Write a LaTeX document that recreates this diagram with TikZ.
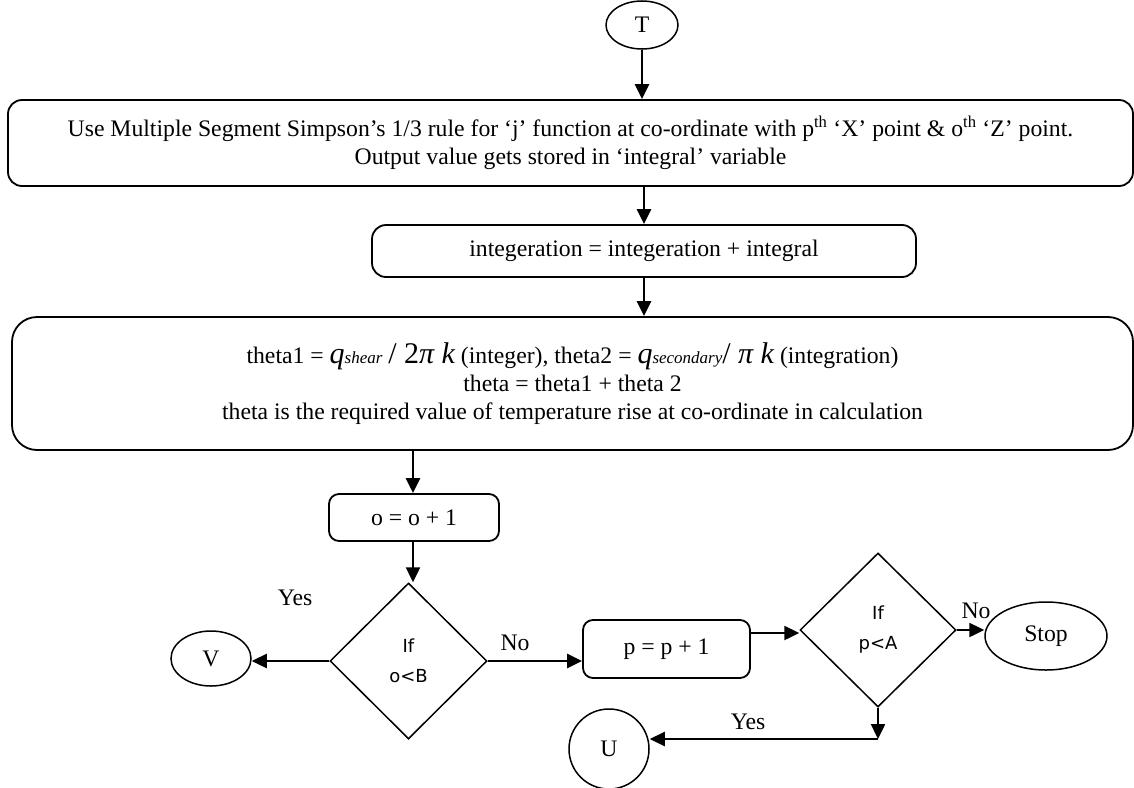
\documentclass[tikz,border=0pt]{standalone}
\usepackage{fontspec}
\setmainfont{Liberation Serif}
\newfontfamily\dejavu{DejaVu Sans}
\usetikzlibrary{shapes.geometric,arrows.meta}
\begin{document}
\begin{tikzpicture}[x=1pt,y=-1pt,
  every node/.style={font=\fontsize{23.7}{28}\selectfont},
  rbox/.style={draw,line width=1.8pt,rounded corners=14pt,align=center,inner sep=0pt},
  dia/.style={draw,diamond,line width=1.5pt,inner sep=0pt,align=center,font=\dejavu\fontsize{18}{30}\selectfont},
  oval/.style={draw,ellipse,line width=1.5pt,inner sep=0pt},
  arr/.style={line width=2.4pt,-{Triangle[length=15pt,width=14pt]}},
  lbl/.style={inner sep=0pt}]
\useasboundingbox (0,0) rectangle (1134,787);
\node[oval,minimum width=72pt,minimum height=48pt] (T) at (642,25) {T};
\node[rbox,minimum width=1125pt,minimum height=86pt] (b1) at (570.5,143)
  {Use Multiple Segment Simpson’s 1/3 rule for ‘j’ function at co-ordinate with p\textsuperscript{th} ‘X’ point \& o\textsuperscript{th} ‘Z’ point.\\
   Output value gets stored in ‘integral’ variable};
\node[rbox,minimum width=544pt,minimum height=52pt] (b2) at (644,251) {integeration = integeration + integral};
\node[rbox,rounded corners=25pt,minimum width=1121pt,minimum height=133pt] (b3) at (572.5,383.5)
  {theta1 = {\fontsize{30}{28}\selectfont\itshape q}{\fontsize{17}{16}\selectfont\itshape shear}
   {\fontsize{30}{28}\selectfont / 2\itshape π k} (integer), theta2 = {\fontsize{30}{28}\selectfont\itshape q}{\fontsize{17}{16}\selectfont\itshape secondary}{\fontsize{30}{28}\selectfont /~\itshape π k} (integration)\\
   theta = theta1 + theta 2\\
   theta is the required value of temperature rise at co-ordinate in calculation};
\node[rbox,rounded corners=10pt,minimum width=170pt,minimum height=47pt] (ob) at (414,517.5) {o = o + 1};
\node[dia,minimum width=157pt,minimum height=156pt] (d1) at (408.5,661) {If\\o<B};
\node[oval,minimum width=80pt,minimum height=55pt] (V) at (211,658.5) {V};
\node[rbox,rounded corners=10pt,minimum width=167pt,minimum height=58pt] (pb) at (666.5,649) {p = p + 1};
\node[dia,minimum width=156pt,minimum height=154pt] (d2) at (878,630) {If\\p<A};
\node[oval,minimum width=122pt,minimum height=68pt] (S) at (1046,636) {Stop};
\node[oval,circle,minimum size=80pt] (U) at (609,749) {U};
\coordinate (c) at (878,739);
\node[lbl] (y1) at (295,598) {Yes};
\node[lbl] (n1) at (515,643) {No};
\node[lbl] (n2) at (976,611) {No};
\node[lbl] (y2) at (748,722) {Yes};
\draw[arr] (T.south) -- (T.south |- b1.north);
\draw[arr] (b2.north |- b1.south) -- (b2.north);
\draw[arr] (b2.south) -- (b2.south |- b3.north);
\draw[arr] ([xshift=-1pt]ob.north |- b3.south) -- ([xshift=-1pt]ob.north);
\draw[arr] ([xshift=-1pt]ob.south) -- ([xshift=-1pt]ob.south |- d1.north);
\draw[arr] (d1.west) -- (d1.west -| V.east);
\draw[arr] (d1.east) -- (d1.east -| pb.west);
\draw[arr] ([yshift=16pt]pb.east) -- ([yshift=16pt]pb.east -| d2.west);
\draw[arr] (d2.east) -- (d2.east -| S.west);
\draw[arr] (d2.south) -- (c);
\draw[arr] (c) -- (c -| U.east);
\end{tikzpicture}
\end{document}
